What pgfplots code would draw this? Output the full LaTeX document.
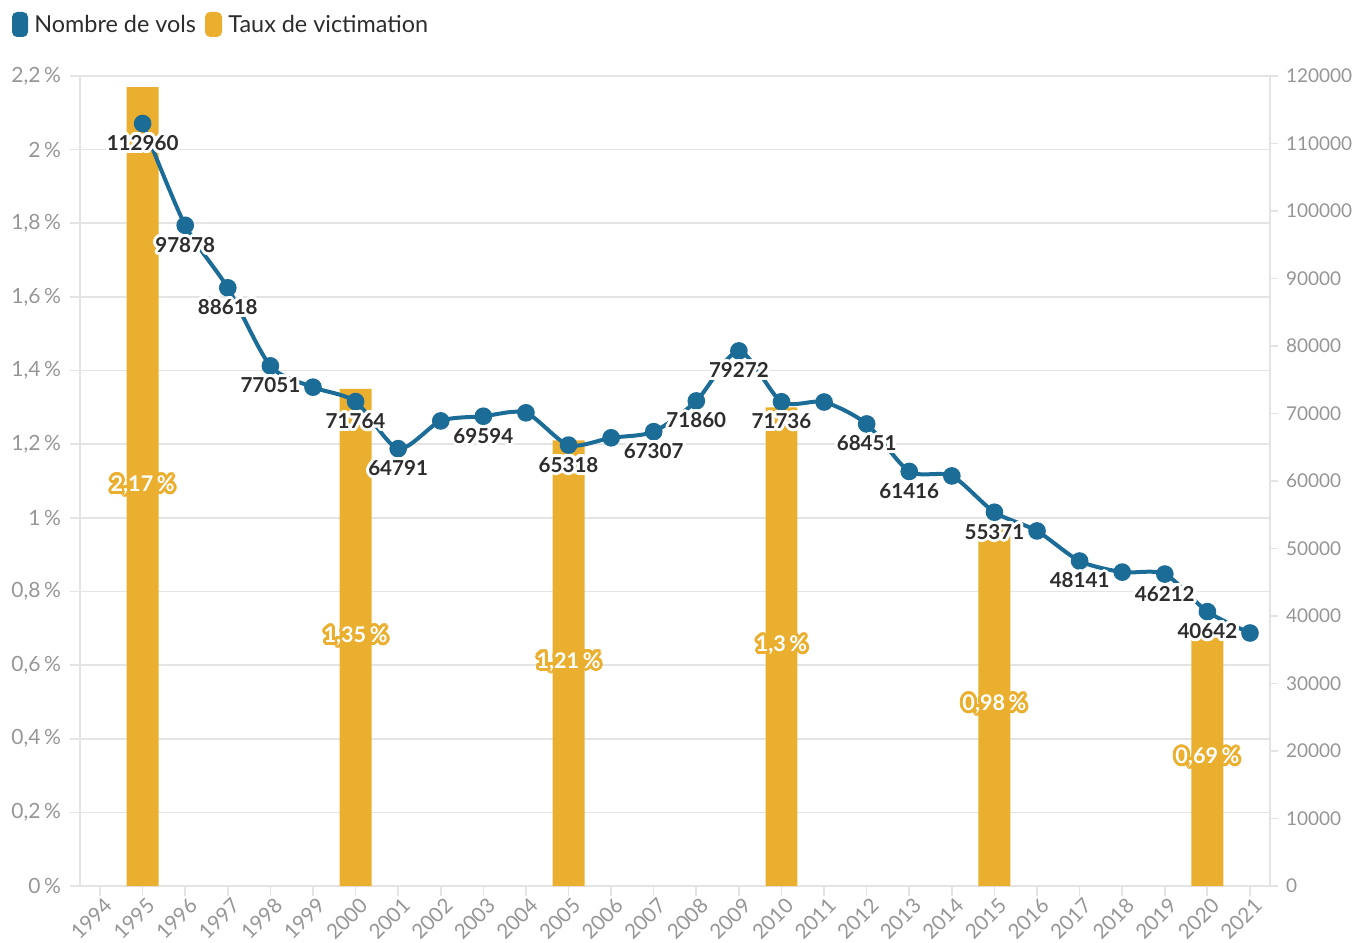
\documentclass[border=0pt]{standalone}
\usepackage{pgfplots}
\pgfplotsset{compat=1.18}
\usepackage{fontspec}
\setmainfont{Lato}
\usepackage{contour}
\contourlength{1.5pt}
\definecolor{vblue}{RGB}{28,108,152}
\definecolor{vorange}{RGB}{235,175,47}
\definecolor{tgray}{RGB}{150,150,150}
\definecolor{lgray}{RGB}{228,228,228}
\definecolor{dtext}{RGB}{45,45,45}
\begin{document}
\begin{tikzpicture}
\useasboundingbox (-40pt,-28pt) rectangle (639pt,443pt);
\pgfplotsset{
  base/.style={
    scale only axis, width=595pt, height=405pt,
    xmin=1993.53, xmax=2021.47,
    /pgf/number format/assume math mode=true,
    /pgf/number format/1000 sep={},
    tick label style={font=\fontsize{10.5}{12}\selectfont, text=tgray},
  }
}
\begin{axis}[base,
  ymin=0, ymax=2.2, ytick={0,0.2,...,2.21},
  yticklabel={\pgfmathprintnumber[use comma,precision=2]{\tick}\,\%},
  xtick={1994,...,2021},
  xticklabel style={rotate=45, anchor=north east, inner sep=1pt, yshift=0pt, xshift=2pt, font=\fontsize{10.3}{12}\selectfont},
  ytick pos=left, xtick pos=bottom, tick align=outside,
  major tick length=5pt,
  tick style={draw=lgray, line width=0.8pt},
  axis line style={draw=lgray, line width=0.8pt},
  ymajorgrids, grid style={draw=lgray, line width=0.8pt},
  yticklabel style={xshift=-1pt},
  clip=false,
]
\addplot[ybar, bar width=0.75, fill=vorange, draw=none] table[x=x,y=y] {
x y
1995 2.17
2000 1.35
2005 1.21
2010 1.30
2015 0.98
2020 0.69
};
\addplot[draw=none, mark=none, point meta=explicit,
  nodes near coords={\contour{vorange}{\pgfmathprintnumber[use comma,precision=2]{\pgfplotspointmeta}\,\%}},
  every node near coord/.append style={anchor=center, text=white, font=\bfseries\fontsize{10.8}{12}\selectfont}]
  table[x=x, y expr=\thisrow{y}/2, meta=y] {
x y
1995 2.17
2000 1.35
2005 1.21
2010 1.30
2015 0.98
2020 0.69
};
\end{axis}
\begin{axis}[base,
  ymin=0, ymax=120000, ytick={0,10000,...,120000},
  scaled y ticks=false,
  /pgf/number format/fixed,
  yticklabel={\pgfmathprintnumber[fixed,precision=0,1000 sep={}]{\tick}},
  axis y line*=right, axis x line=none,
  tick align=outside, major tick length=4pt,
  tick style={draw=lgray, line width=0.8pt},
  axis line style={draw=lgray, line width=0.8pt},
  yticklabel style={xshift=0.5pt, font=\fontsize{9.5}{12}\selectfont},
  clip=false,
]
\addplot[vblue, line width=2pt, smooth, tension=0.45, mark=*, mark size=3.4pt, mark options={fill=vblue, draw=vblue}] table[x=x,y=y] {
x y
1995 112960
1996 97878
1997 88618
1998 77051
1999 73900
2000 71764
2001 64791
2002 68900
2003 69594
2004 70100
2005 65318
2006 66400
2007 67307
2008 71860
2009 79272
2010 71736
2011 71700
2012 68451
2013 61416
2014 60750
2015 55371
2016 52600
2017 48141
2018 46500
2019 46212
2020 40642
2021 37480
};
\addplot[draw=none, mark=none, point meta=explicit,
  nodes near coords={\contour{white}{\pgfmathprintnumber[fixed,precision=0,1000 sep={}]{\pgfplotspointmeta}}},
  every node near coord/.append style={anchor=center, yshift=-10.5pt, text=dtext, font=\bfseries\fontsize{10.3}{12}\selectfont}]
  table[x=x, y=y, meta=y] {
x y
1995 112960
1996 97878
1997 88618
1998 77051
2000 71764
2001 64791
2003 69594
2005 65318
2007 67307
2008 71860
2009 79272
2010 71736
2012 68451
2013 61416
2015 55371
2017 48141
2019 46212
2020 40642
};
\end{axis}
% legend
\fill[vblue, rounded corners=2.5pt] (-34pt,424.5pt) rectangle (-26pt,437pt);
\node[anchor=west, inner sep=0pt, text=dtext, font=\fontsize{11.7}{14}\selectfont] at (-23pt,431pt) {Nombre de vols};
\fill[vorange, rounded corners=2.5pt] (62.5pt,424.5pt) rectangle (71pt,437pt);
\node[anchor=west, inner sep=0pt, text=dtext, font=\fontsize{11.7}{14}\selectfont] at (74pt,431pt) {Taux de victimation};
\end{tikzpicture}
\end{document}
